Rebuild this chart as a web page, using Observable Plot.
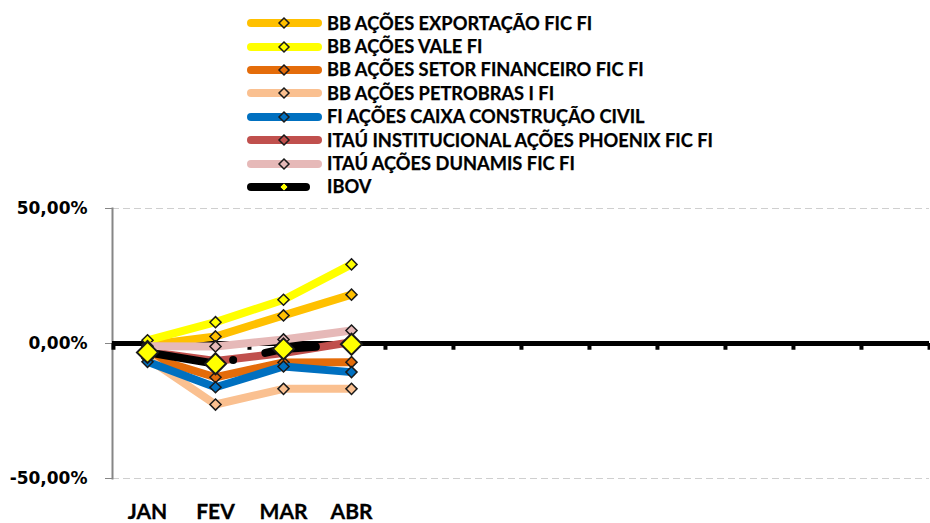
<!DOCTYPE html>
<html><head><meta charset="utf-8">
<script src="https://cdn.jsdelivr.net/npm/d3@7"></script>
<script src="https://cdn.jsdelivr.net/npm/@observablehq/plot@0.6"></script>
<style>
body{margin:0;background:#fff;}
#wrap{position:relative;width:930px;height:523px;overflow:hidden;font-family:Lato,"Open Sans",sans-serif;}
#legend{position:absolute;left:247px;top:11.6px;}
.row{display:flex;align-items:center;height:23.4px;font-weight:bold;font-size:18.25px;color:#000;white-space:nowrap;line-height:23.4px;-webkit-text-stroke:0.25px #000}
.row svg{display:block;flex:none}
#chart svg text{font-weight:bold;fill:#000}
#chart svg g.yax text{font-family:"DejaVu Sans",sans-serif}
#chart svg g.xax text{font-family:Lato,"Open Sans",sans-serif;stroke:#000;stroke-width:0.3px}
</style></head>
<body>
<div id="wrap"><div id="chart"></div><div id="legend"></div></div>
<script>
const months = ["JAN","FEV","MAR","ABR","MAI","JUN","JUL","AGO","SET","OUT","NOV","DEZ"];
const dataMonths = ["JAN","FEV","MAR","ABR"];
const seriesNames = [
  "BB AÇÕES EXPORTAÇÃO FIC FI",
  "BB AÇÕES VALE FI",
  "BB AÇÕES SETOR FINANCEIRO FIC FI",
  "BB AÇÕES PETROBRAS I FI",
  "FI AÇÕES CAIXA CONSTRUÇÃO CIVIL",
  "ITAÚ INSTITUCIONAL AÇÕES PHOENIX FIC FI",
  "ITAÚ AÇÕES DUNAMIS FIC FI",
  "IBOV"
];
const colors = ["#FFC000","#FFFF00","#E46C0A","#FAC090","#0070C0","#C0504D","#E6B9B8","#000000"];
// values in %
const exportacao = [-0.5, 2.6, 10.4, 18.1];
const vale = [1.2, 7.9, 16.2, 29.3];
const setorFinanceiro = [-4.8, -12.5, -7.0, -6.9];
const petrobras = [-5.5, -22.6, -16.8, -16.8];
const caixa = [-6.8, -16.2, -8.5, -10.6];
const phoenix = [-3.0, -6.5, -3.5, 0.5];
const dunamis = [-1.0, -1.1, 1.5, 4.8];
const ibov = [-3.3, -7.5, -2.0, -0.3];
const yTicks = [-50, 0, 50];

const allSeries = [exportacao, vale, setorFinanceiro, petrobras, caixa, phoenix, dunamis, ibov];
const W = 930, H = 523, mL = 112, mR = 1, mT = 208, mB = 45;
const bw = (W - mL - mR) / months.length;

const fmt = d => d.toFixed(2).replace(".", ",") + "%";

const marks = [
  Plot.ruleY([-50, 50], {stroke: "#cfcfcf", strokeWidth: 1, strokeDasharray: "7,4"}),
  Plot.frame({anchor: "left", stroke: "#868686", strokeWidth: 2}),
  Plot.axisY({ticks: yTicks, tickFormat: fmt, tickSize: 7, tickPadding: 18, stroke: "#868686", fontSize: 17, label: null, className: "yax"}),
  Plot.axisX({anchor: "bottom", tickSize: 0, tickPadding: 26, fontSize: 21, label: null, className: "xax", tickFormat: d => dataMonths.includes(d) ? d : ""}),
  Plot.ruleY([0], {stroke: "#000", strokeWidth: 5}),
  Plot.ruleX(months, {x: d => d, y1: 0, y2: -2.5, stroke: "#000", strokeWidth: 4, dx: -bw / 2}),
  Plot.ruleX([months[months.length - 1]], {x: d => d, y1: 0, y2: -2.5, stroke: "#000", strokeWidth: 4, dx: bw / 2})
];

allSeries.forEach((vals, i) => {
  const rows = vals.map((v, j) => ({month: dataMonths[j], value: v, series: seriesNames[i]}));
  const isIbov = seriesNames[i] === "IBOV";
  marks.push(Plot.line(rows, {
    x: "month", y: "value", stroke: colors[i], strokeWidth: 8,
    strokeLinejoin: "round", strokeLinecap: "round",
    strokeDasharray: isIbov ? "72,15,0,33,51,1000" : null
  }));
  marks.push(Plot.dot(rows, {
    x: "month", y: "value", symbol: "diamond2",
    r: isIbov ? 9.5 : 5,
    fill: isIbov ? "#FFFF00" : colors[i],
    stroke: "#1a1a1a", strokeWidth: isIbov ? 2 : 1.5
  }));
});

const chart = Plot.plot({
  width: W, height: H,
  marginLeft: mL, marginRight: mR, marginTop: mT, marginBottom: mB,
  x: {type: "band", domain: months, padding: 0, axis: null, label: null},
  y: {domain: [-50, 50], axis: null, label: null},
  style: {background: "transparent", overflow: "visible"},
  marks
});
document.getElementById("chart").appendChild(chart);

// legend
const legend = document.getElementById("legend");
seriesNames.forEach((name, i) => {
  const isIbov = name === "IBOV";
  const row = document.createElement("div");
  row.className = "row";
  const ns = "http://www.w3.org/2000/svg";
  const svg = document.createElementNS(ns, "svg");
  svg.setAttribute("width", 80); svg.setAttribute("height", 16);
  const line = document.createElementNS(ns, "line");
  line.setAttribute("x1", 4); line.setAttribute("x2", isIbov ? 59 : 71);
  line.setAttribute("y1", 8); line.setAttribute("y2", 8);
  line.setAttribute("stroke", colors[i]); line.setAttribute("stroke-width", 8);
  line.setAttribute("stroke-linecap", "round");
  svg.appendChild(line);
  const s = isIbov ? 4 : 5;
  const dia = document.createElementNS(ns, "path");
  dia.setAttribute("d", `M37,${8 - s}L${37 + s},8L37,${8 + s}L${37 - s},8Z`);
  dia.setAttribute("fill", isIbov ? "#FFFF00" : colors[i]);
  dia.setAttribute("stroke", "#1a1a1a"); dia.setAttribute("stroke-width", isIbov ? 1 : 1.5);
  svg.appendChild(dia);
  row.appendChild(svg);
  const t = document.createElement("span");
  t.textContent = name;
  row.appendChild(t);
  legend.appendChild(row);
});
</script>
</body></html>
